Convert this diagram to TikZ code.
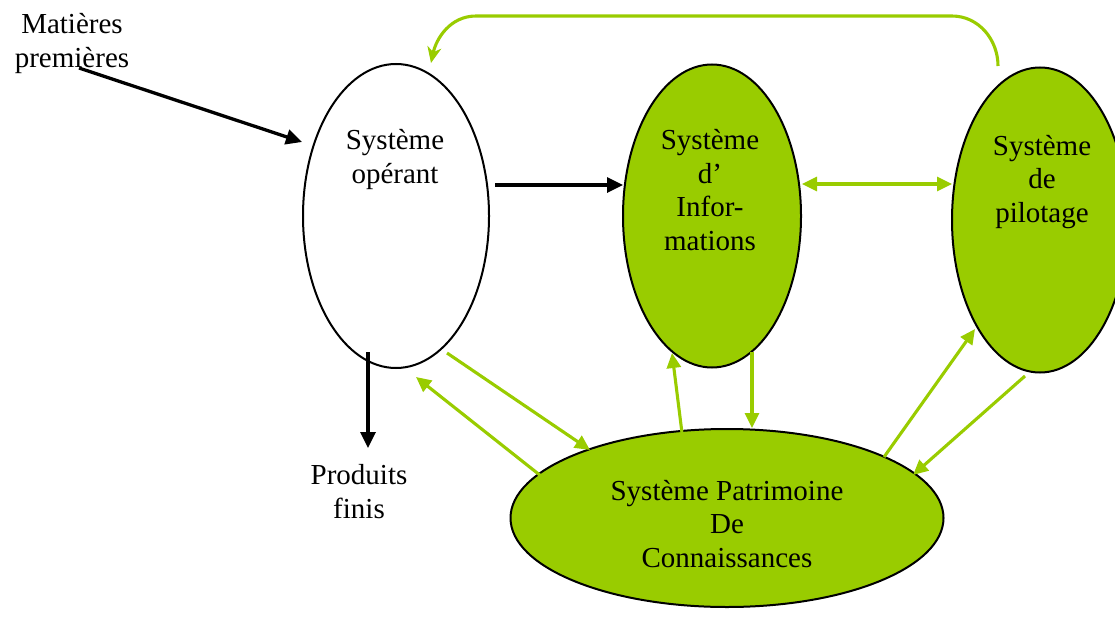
\documentclass[tikz,border=0pt]{standalone}
\usepackage{fontspec}
\setmainfont{Liberation Serif}
\usetikzlibrary{shapes.geometric,arrows.meta}
\definecolor{lime}{RGB}{153,204,0}
\tikzset{
  sysbox/.style={ellipse, draw=black, line width=2pt, inner sep=0pt},
  lbl/.style={inner sep=0pt, align=center, font=\fontsize{29}{33.5}\selectfont, anchor=base},
  blk/.style={draw=black, line width=3.3pt, -{Triangle[length=16pt,width=15pt]}},
  grn/.style={draw=lime, line width=3.1pt, -{Triangle[length=15pt,width=14pt]}},
  grn2/.style={draw=lime, line width=3.1pt, {Triangle[length=15pt,width=14pt]}-{Triangle[length=15pt,width=14pt]}},
  grnbarb/.style={draw=lime, line width=3.1pt, -{Stealth[length=16pt,width=14pt,inset=5pt]}}
}
\begin{document}
\begin{tikzpicture}[x=1pt,y=-1pt]
\useasboundingbox (0,0) rectangle (1115,618);
% systems
\node[sysbox, fill=white, minimum width=186pt, minimum height=304pt] (op) at (396,216) {};
\node[sysbox, fill=lime, minimum width=178pt, minimum height=303pt] (si) at (712,216) {};
\node[sysbox, fill=lime, minimum width=176pt, minimum height=305pt] (sp) at (1040,220) {};
\node[sysbox, fill=lime, minimum width=433pt, minimum height=178pt] (spc) at (727,518) {};
% texts (anchor base = baseline of last line)
\node[lbl] (opT) at (395,183) {Système\\opérant};
\node[lbl] (siT) at (710,250) {Système\\d’\\Infor-\\mations};
\node[lbl] (spT) at (1042,222) {Système\\de\\pilotage};
\node[lbl] (spcT) at (727,567) {Système Patrimoine\\De\\Connaissances};
\node[lbl] (mp) at (72,67) {Matières\\premières};
\node[lbl] (pf) at (359,518) {Produits\\finis};
% connector end points
\coordinate (mpS) at (79,68);
\coordinate (opIn) at (302,142);
\coordinate (opR) at (495,185);
\coordinate (siL) at (623,185);
\coordinate (opB) at (368,352);
\coordinate (pfT) at (368,448);
\coordinate (spTop) at (998,66);
\coordinate (opTop) at (431,63);
\coordinate (siR) at (802,184);
\coordinate (spL) at (952,184);
\coordinate (opBR) at (447,353);
\coordinate (spcTL) at (590,450);
\coordinate (spcL) at (541,476);
\coordinate (opBR2) at (416,377);
\coordinate (spcT1) at (682,433);
\coordinate (siB1) at (672,353);
\coordinate (siB2) at (752,352);
\coordinate (spcT2) at (752,428);
\coordinate (spcR1) at (884,457);
\coordinate (spBL) at (975,329);
\coordinate (spB) at (1025,376);
\coordinate (spcR2) at (913,475);
% black connectors
\draw[blk] (mpS) -- (opIn);
\draw[blk] (opR) -- (siL);
\draw[blk] (opB) -- (pfT);
% green connectors
\draw[grnbarb] (spTop) to[out=90,in=0] (952,16) -- (476,16) to[out=180,in=78] (opTop);
\draw[grn2] (siR) -- (spL);
\draw[grn] (opBR) -- (spcTL);
\draw[grn] (spcL) -- (opBR2);
\draw[grn] (spcT1) -- (siB1);
\draw[grn] (siB2) -- (spcT2);
\draw[grn] (spcR1) -- (spBL);
\draw[grn] (spB) -- (spcR2);
\end{tikzpicture}
\end{document}
